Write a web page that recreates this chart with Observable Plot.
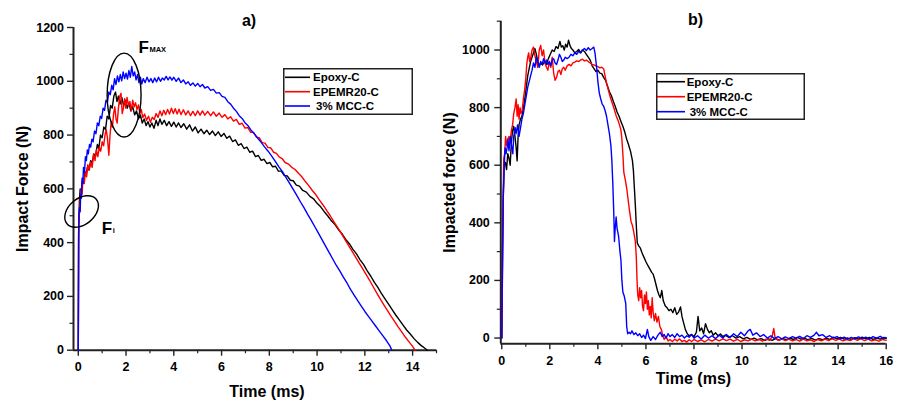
<!DOCTYPE html>
<html>
<head>
<meta charset="utf-8">
<script src="https://cdn.jsdelivr.net/npm/d3@7"></script>
<script src="https://cdn.jsdelivr.net/npm/@observablehq/plot@0.6"></script>
<style>
  body { margin: 0; background: #fff; }
  #wrap { position: relative; width: 904px; height: 400px; overflow: hidden; background: #fff; font-family: "Liberation Sans", Arial, sans-serif; }
  #wrap svg { position: absolute; top: 0; overflow: visible; }
</style>
</head>
<body>
<div id="wrap"></div>
<script>
// ---------- data ----------
const seriesNames = ["Epoxy-C", "EPEMR20-C", "3% MCC-C"];
const seriesColors = ["#000000", "#ff0000", "#0000ff"];

const aXTicks = [0, 2, 4, 6, 8, 10, 12, 14];
const aXMinor = [1, 3, 5, 7, 9, 11, 13, 15];
const aYTicks = [0, 200, 400, 600, 800, 1000, 1200];
const aYMinor = [100, 300, 500, 700, 900, 1100];
const bXTicks = [0, 2, 4, 6, 8, 10, 12, 14, 16];
const bXMinor = [1, 3, 5, 7, 9, 11, 13, 15];
const bYTicks = [0, 200, 400, 600, 800, 1000];
const bYMinor = [100, 300, 500, 700, 900, 1100];

// panel a) : [time ms, force N]
const aEpoxy = [[0,0],[0.02,470],[0.05,560],[0.08,600],[0.12,585],[0.17,630],[0.22,620],[0.28,660],[0.33,650],[0.38,680],[0.45,670],[0.52,705],[0.58,695],[0.65,730],[0.72,720],[0.8,765],[0.86,750],[0.93,800],[1.0,790],[1.07,830],[1.14,820],[1.21,870],[1.28,860],[1.35,910],[1.42,900],[1.49,945],[1.56,960],[1.62,925],[1.68,945],[1.75,915],[1.82,940],[1.9,910],[1.97,930],[2.05,900],[2.12,920],[2.2,890],[2.28,905],[2.36,875],[2.44,890],[2.52,860],[2.6,875],[2.68,845],[2.76,860],[2.84,835],[2.92,850],[3.0,830],[3.08,845],[3.17,825],[3.26,855],[3.34,835],[3.42,860],[3.5,840],[3.6,855],[3.7,835],[3.8,850],[3.9,832],[4.0,848],[4.1,830],[4.2,845],[4.3,828],[4.42,842],[4.54,822],[4.66,838],[4.78,815],[4.9,830],[5.02,808],[5.14,822],[5.26,805],[5.38,818],[5.5,802],[5.62,815],[5.74,798],[5.86,812],[5.98,795],[6.1,806],[6.22,788],[6.34,796],[6.46,776],[6.58,782],[6.7,762],[6.82,768],[6.94,750],[7.06,755],[7.18,736],[7.3,740],[7.42,720],[7.54,724],[7.66,706],[7.78,710],[7.9,694],[8.02,698],[8.14,682],[8.26,684],[8.38,666],[8.5,666],[8.62,650],[8.75,648],[8.88,632],[9.0,630],[9.13,614],[9.26,610],[9.4,594],[9.55,588],[9.7,572],[9.85,563],[10.0,546],[10.15,533],[10.3,515],[10.45,499],[10.6,481],[10.75,467],[10.9,448],[11.05,432],[11.2,412],[11.35,396],[11.5,375],[11.65,358],[11.8,336],[11.95,318],[12.1,295],[12.25,275],[12.4,252],[12.55,233],[12.7,210],[12.85,190],[13.0,170],[13.15,150],[13.3,130],[13.45,112],[13.6,93],[13.75,75],[13.9,60],[14.05,44],[14.2,30],[14.35,18],[14.5,8],[14.62,0]];

const aEpemr = [[0,0],[0.02,460],[0.04,500],[0.08,560],[0.12,600],[0.16,580],[0.2,640],[0.25,620],[0.3,665],[0.35,645],[0.4,690],[0.46,670],[0.52,700],[0.58,680],[0.64,730],[0.7,705],[0.76,745],[0.82,720],[0.88,755],[0.94,740],[1.0,775],[1.06,760],[1.12,800],[1.17,820],[1.22,790],[1.28,725],[1.33,800],[1.38,850],[1.43,830],[1.48,880],[1.53,905],[1.58,860],[1.63,845],[1.68,900],[1.74,945],[1.79,955],[1.84,880],[1.89,900],[1.94,935],[1.99,900],[2.04,940],[2.1,910],[2.16,925],[2.22,890],[2.28,930],[2.34,905],[2.4,920],[2.46,895],[2.52,912],[2.58,880],[2.64,895],[2.7,865],[2.78,878],[2.86,855],[2.94,870],[3.02,848],[3.1,866],[3.18,858],[3.26,880],[3.34,866],[3.42,890],[3.5,872],[3.58,892],[3.66,876],[3.74,895],[3.82,878],[3.9,900],[3.98,880],[4.06,898],[4.14,878],[4.22,896],[4.3,876],[4.4,894],[4.5,875],[4.6,890],[4.7,872],[4.8,888],[4.9,872],[5.0,890],[5.1,874],[5.2,890],[5.3,874],[5.42,888],[5.54,872],[5.66,886],[5.78,870],[5.9,882],[6.02,866],[6.14,876],[6.26,860],[6.38,868],[6.5,852],[6.62,858],[6.74,840],[6.86,844],[6.98,826],[7.1,828],[7.22,810],[7.34,810],[7.46,792],[7.58,790],[7.7,772],[7.82,770],[7.94,754],[8.06,752],[8.18,736],[8.3,732],[8.42,718],[8.54,712],[8.66,698],[8.8,692],[8.94,680],[9.08,672],[9.22,658],[9.36,645],[9.5,628],[9.65,612],[9.8,594],[9.95,578],[10.1,558],[10.25,540],[10.4,520],[10.55,500],[10.7,478],[10.85,458],[11.0,436],[11.15,414],[11.3,392],[11.45,370],[11.6,348],[11.75,326],[11.9,304],[12.05,282],[12.2,260],[12.35,236],[12.5,212],[12.65,190],[12.8,168],[12.95,147],[13.1,126],[13.25,106],[13.4,86],[13.55,67],[13.7,48],[13.85,31],[14.0,14],[14.1,0]];

const aMcc = [[0,0],[0.01,420],[0.03,500],[0.05,530],[0.08,515],[0.1,580],[0.13,565],[0.16,640],[0.19,620],[0.22,680],[0.26,660],[0.3,720],[0.34,705],[0.38,745],[0.42,730],[0.47,765],[0.52,755],[0.57,785],[0.62,775],[0.68,815],[0.74,805],[0.8,845],[0.86,835],[0.92,870],[0.98,862],[1.04,900],[1.1,892],[1.16,930],[1.22,922],[1.28,960],[1.34,950],[1.4,985],[1.46,968],[1.52,1010],[1.58,988],[1.64,1020],[1.7,998],[1.76,1025],[1.82,1002],[1.88,1035],[1.94,1010],[2.0,1030],[2.06,1008],[2.12,1040],[2.18,1015],[2.24,1055],[2.3,1020],[2.36,1035],[2.42,1005],[2.48,1025],[2.54,995],[2.6,1015],[2.66,990],[2.72,1010],[2.8,995],[2.88,1015],[2.96,998],[3.04,1010],[3.12,995],[3.2,1012],[3.28,998],[3.36,1015],[3.44,1000],[3.52,1012],[3.6,1005],[3.68,1018],[3.76,1005],[3.84,1016],[3.92,1004],[4.0,1015],[4.1,1000],[4.2,1012],[4.3,995],[4.4,1005],[4.5,990],[4.6,998],[4.7,985],[4.8,994],[4.9,982],[5.0,992],[5.1,980],[5.2,988],[5.3,975],[5.42,980],[5.54,966],[5.66,970],[5.78,956],[5.9,958],[6.02,944],[6.14,940],[6.26,924],[6.38,915],[6.5,900],[6.62,888],[6.74,872],[6.86,862],[6.98,846],[7.1,836],[7.22,820],[7.36,806],[7.5,790],[7.65,774],[7.8,756],[7.95,740],[8.1,722],[8.25,702],[8.4,682],[8.55,664],[8.7,642],[8.85,620],[9.0,598],[9.15,576],[9.3,552],[9.45,530],[9.6,506],[9.75,484],[9.9,460],[10.05,436],[10.2,412],[10.35,388],[10.5,364],[10.65,340],[10.8,316],[10.95,295],[11.1,272],[11.25,250],[11.4,226],[11.55,205],[11.7,184],[11.85,164],[12.0,144],[12.15,126],[12.3,108],[12.45,90],[12.6,72],[12.75,54],[12.9,36],[13.05,16],[13.13,0]];

// panel b) : [time ms, force N]
const bEpoxy = [[0,0],[0.03,300],[0.06,480],[0.1,600],[0.15,610],[0.2,585],[0.25,640],[0.3,625],[0.35,600],[0.4,680],[0.45,720],[0.5,735],[0.55,700],[0.6,660],[0.64,615],[0.68,700],[0.72,740],[0.78,760],[0.84,770],[0.9,800],[0.96,830],[1.02,870],[1.08,910],[1.14,935],[1.2,960],[1.26,975],[1.32,990],[1.38,1005],[1.44,985],[1.5,960],[1.56,945],[1.62,955],[1.7,948],[1.78,960],[1.86,950],[1.94,970],[2.02,985],[2.1,1000],[2.18,995],[2.26,1012],[2.34,1005],[2.42,1030],[2.48,1010],[2.54,1015],[2.6,1000],[2.66,1020],[2.72,1010],[2.78,1034],[2.84,1015],[2.9,1005],[2.96,1000],[3.04,990],[3.12,995],[3.2,1002],[3.28,990],[3.36,1000],[3.44,995],[3.52,985],[3.6,975],[3.68,965],[3.76,945],[3.84,935],[3.92,925],[4.0,930],[4.08,920],[4.16,918],[4.24,905],[4.32,895],[4.4,875],[4.48,855],[4.56,842],[4.64,822],[4.72,805],[4.8,785],[4.88,770],[4.96,752],[5.04,735],[5.12,715],[5.2,690],[5.28,670],[5.36,648],[5.44,615],[5.48,580],[5.52,520],[5.56,460],[5.6,390],[5.64,330],[5.7,320],[5.77,312],[5.84,295],[5.92,280],[6.0,265],[6.08,252],[6.16,240],[6.24,228],[6.3,222],[6.36,205],[6.42,185],[6.48,165],[6.54,150],[6.6,140],[6.66,165],[6.72,130],[6.8,112],[6.88,105],[6.96,95],[7.04,100],[7.12,88],[7.2,105],[7.28,82],[7.36,90],[7.44,108],[7.5,75],[7.56,55],[7.64,30],[7.72,15],[7.8,8],[7.9,12],[8.0,5],[8.1,20],[8.17,75],[8.24,25],[8.32,35],[8.4,15],[8.48,50],[8.56,30],[8.64,18],[8.72,25],[8.8,10],[8.9,18],[9.0,8],[9.1,14],[9.2,5],[9.3,10],[9.45,2],[9.6,8],[9.75,0],[9.9,5],[10.05,-3],[10.2,2],[10.35,-5],[10.5,0],[10.65,-6],[10.8,-2],[10.95,-8],[11.1,-3],[11.25,-8],[11.4,-2],[11.55,-7],[11.7,-2],[11.85,-6],[12.0,0],[12.15,-5],[12.3,2],[12.45,-4],[12.6,0],[12.75,-6],[12.9,-1],[13.05,-7],[13.2,-2],[13.35,-6],[13.5,0],[13.65,-5],[13.8,3],[13.95,-3],[14.1,2],[14.25,-4],[14.4,0],[14.55,-5],[14.7,1],[14.85,-4],[15.0,3],[15.15,-3],[15.3,2],[15.45,-5],[15.6,0],[15.75,-4],[15.9,2],[16.0,-2]];

const bEpemr = [[0,0],[0.02,140],[0.05,420],[0.08,620],[0.12,640],[0.16,700],[0.2,670],[0.25,690],[0.3,700],[0.35,680],[0.4,720],[0.45,740],[0.5,780],[0.55,800],[0.6,830],[0.64,770],[0.68,810],[0.72,760],[0.76,800],[0.8,780],[0.85,790],[0.9,830],[0.95,860],[1.0,900],[1.04,950],[1.08,975],[1.12,990],[1.16,960],[1.2,970],[1.26,1000],[1.32,1010],[1.38,980],[1.44,960],[1.5,940],[1.56,1000],[1.62,1016],[1.68,980],[1.74,1000],[1.8,955],[1.86,940],[1.92,930],[1.98,960],[2.04,940],[2.1,975],[2.16,920],[2.22,895],[2.28,905],[2.34,925],[2.4,930],[2.46,915],[2.52,935],[2.58,940],[2.64,930],[2.72,945],[2.8,950],[2.88,945],[2.96,955],[3.04,958],[3.12,962],[3.2,960],[3.28,965],[3.36,968],[3.44,962],[3.52,965],[3.6,960],[3.68,955],[3.76,950],[3.84,948],[3.92,945],[4.0,942],[4.08,938],[4.16,940],[4.24,935],[4.3,910],[4.36,885],[4.44,860],[4.52,835],[4.6,815],[4.68,795],[4.76,772],[4.84,755],[4.9,740],[4.96,722],[5.0,690],[5.04,640],[5.08,575],[5.14,550],[5.2,520],[5.26,480],[5.32,440],[5.38,405],[5.44,390],[5.5,365],[5.56,335],[5.6,280],[5.63,200],[5.66,150],[5.7,130],[5.74,175],[5.78,140],[5.82,165],[5.86,110],[5.9,95],[5.94,150],[5.98,120],[6.02,160],[6.06,100],[6.1,130],[6.14,80],[6.18,110],[6.22,70],[6.26,140],[6.3,90],[6.35,60],[6.4,85],[6.46,55],[6.52,75],[6.58,40],[6.64,30],[6.7,10],[6.76,-5],[6.84,5],[6.92,-10],[7.0,-5],[7.1,-12],[7.2,-4],[7.3,-10],[7.4,-3],[7.5,-12],[7.6,-8],[7.7,-14],[7.8,-6],[7.9,-12],[8.0,-5],[8.15,-12],[8.3,-6],[8.45,-13],[8.6,-5],[8.75,-11],[8.9,-4],[9.05,-10],[9.2,-3],[9.35,-9],[9.5,-4],[9.65,-11],[9.8,-5],[9.95,-12],[10.1,-6],[10.25,-10],[10.4,-4],[10.55,-10],[10.7,-5],[10.85,-11],[11.0,-4],[11.15,-8],[11.25,5],[11.32,33],[11.38,0],[11.5,-8],[11.65,-3],[11.8,-9],[11.95,-4],[12.1,-10],[12.25,-5],[12.4,-11],[12.55,-4],[12.7,-10],[12.85,-6],[13.0,-12],[13.15,-5],[13.3,-10],[13.45,-4],[13.6,-9],[13.75,-3],[13.9,-8],[14.05,-4],[14.2,-10],[14.35,-5],[14.5,-9],[14.65,-2],[14.8,-8],[14.95,-3],[15.1,-9],[15.25,-4],[15.4,-10],[15.55,-6],[15.7,-11],[15.85,-5],[16.0,-8]];

const bMcc = [[0,0],[0.03,250],[0.06,480],[0.1,600],[0.14,660],[0.18,640],[0.22,660],[0.26,690],[0.3,650],[0.36,700],[0.42,660],[0.46,640],[0.5,700],[0.56,730],[0.6,710],[0.66,740],[0.72,700],[0.78,730],[0.84,760],[0.9,780],[0.96,810],[1.02,840],[1.08,870],[1.14,890],[1.2,910],[1.26,930],[1.32,955],[1.38,940],[1.44,975],[1.5,960],[1.56,940],[1.62,960],[1.68,950],[1.74,970],[1.8,955],[1.86,965],[1.92,950],[1.98,960],[2.04,945],[2.1,965],[2.16,970],[2.22,955],[2.28,950],[2.34,965],[2.4,985],[2.46,975],[2.52,960],[2.58,965],[2.64,975],[2.72,970],[2.8,975],[2.88,985],[2.96,980],[3.04,990],[3.12,985],[3.2,995],[3.28,990],[3.36,1000],[3.44,1005],[3.52,998],[3.6,1008],[3.68,1000],[3.76,1005],[3.83,1010],[3.88,990],[3.92,960],[3.96,930],[4.0,890],[4.06,850],[4.12,830],[4.18,812],[4.24,805],[4.3,790],[4.36,770],[4.42,740],[4.48,710],[4.54,670],[4.58,620],[4.62,540],[4.66,440],[4.69,335],[4.72,380],[4.76,420],[4.8,380],[4.86,355],[4.92,300],[4.96,270],[5.0,200],[5.04,160],[5.1,145],[5.16,120],[5.2,40],[5.24,15],[5.3,20],[5.36,15],[5.42,25],[5.5,12],[5.58,18],[5.66,8],[5.74,15],[5.82,2],[5.9,10],[5.98,-2],[6.06,30],[6.12,5],[6.2,-8],[6.3,5],[6.4,-5],[6.5,10],[6.6,20],[6.68,5],[6.76,12],[6.84,0],[6.92,15],[7.0,5],[7.1,12],[7.2,2],[7.3,15],[7.4,5],[7.5,10],[7.6,0],[7.7,8],[7.8,3],[7.9,12],[8.0,0],[8.15,8],[8.3,-3],[8.45,10],[8.6,0],[8.75,8],[8.9,-2],[9.05,10],[9.2,0],[9.35,12],[9.5,2],[9.65,15],[9.8,5],[9.95,20],[10.1,8],[10.25,25],[10.34,30],[10.45,10],[10.6,18],[10.75,5],[10.9,12],[11.05,0],[11.2,8],[11.35,-2],[11.5,5],[11.65,-3],[11.8,4],[11.95,-2],[12.1,5],[12.25,0],[12.4,6],[12.55,-2],[12.7,8],[12.85,2],[13.0,10],[13.1,20],[13.2,8],[13.35,12],[13.5,2],[13.65,8],[13.8,0],[13.95,5],[14.1,-3],[14.25,3],[14.4,-4],[14.55,2],[14.7,-3],[14.85,4],[15.0,-2],[15.15,3],[15.3,-4],[15.45,5],[15.6,0],[15.75,6],[15.9,-2],[16.0,2]];

// annotations in panel a) (data coordinates)
const aNotes = [{t: 2.52, f: 1126, main: "F", sub: "MAX"}, {t: 0.98, f: 452, main: "F", sub: "i"}];
const aRings = [{t: 1.94, f: 947, rt: 0.71, rf: 156, angle: 0}, {t: 0.16, f: 514, rt: 0.8, rf: 48, angle: -40}];

// ---------- drawing ----------
const FONT = "'Liberation Sans', Arial, sans-serif";
const wrap = document.getElementById("wrap");

function rowsOf(list) {
  return list.flatMap((pts, i) => pts.map(([t, f]) => ({t, f, s: seriesNames[i]})));
}

function panel(cfg) {
  const marks = [
    Plot.axisX({ticks: cfg.xTicks, tickSize: 6, tickPadding: 6, tickFormat: d => String(d), label: null, fontSize: 12.5, fontWeight: "bold", stroke: "#222", strokeWidth: 1.4}),
    Plot.axisX({ticks: cfg.xMinor, tickSize: 3.5, tickFormat: () => "", label: null, stroke: "#222", strokeWidth: 1.2}),
    Plot.axisY({ticks: cfg.yTicks, tickSize: 6, tickPadding: cfg.yPad, tickFormat: d => String(d), label: null, fontSize: 12.5, fontWeight: "bold", stroke: "#222", strokeWidth: 1.4}),
    Plot.axisY({ticks: cfg.yMinor, tickSize: 3.5, tickFormat: () => "", label: null, stroke: "#222", strokeWidth: 1.2}),
    Plot.ruleX([cfg.xDomain[0]], {stroke: "#222", strokeWidth: 2}),
    Plot.ruleY([cfg.yDomain[0]], {stroke: "#222", strokeWidth: 2}),
    Plot.line(rowsOf(cfg.series), {x: "t", y: "f", z: "s", stroke: "s", strokeWidth: 1.4}),
    Plot.text([cfg.xLabel], {frameAnchor: "bottom", lineAnchor: "middle", textAnchor: "middle", dx: cfg.xLabelDx, dy: cfg.xLabelDy, fontSize: 16, fontWeight: "bold", fill: "#000"}),
    Plot.text([cfg.yLabel], {frameAnchor: "left", lineAnchor: "middle", textAnchor: "middle", dx: cfg.yLabelDx, rotate: -90, fontSize: 16, fontWeight: "bold", fill: "#000"}),
    Plot.text([cfg.title], {frameAnchor: "top", lineAnchor: "middle", textAnchor: "middle", dx: cfg.titleDx, dy: cfg.titleDy, fontSize: 16, fontWeight: "bold", fill: "#000"}),
    ...(cfg.extra || [])
  ];
  return Plot.plot({
    width: cfg.width, height: 400,
    marginLeft: cfg.ml, marginRight: cfg.mr, marginTop: cfg.mt, marginBottom: cfg.mb,
    style: {background: "transparent", fontFamily: FONT, fontWeight: "bold", color: "#000", overflow: "visible"},
    x: {domain: cfg.xDomain},
    y: {domain: cfg.yDomain},
    color: {domain: seriesNames, range: seriesColors},
    marks
  });
}

const chartA = panel({
  width: 450, ml: 73, mr: 14, mt: 27, mb: 50.3,
  xDomain: [-0.2, 15], yDomain: [0, 1200],
  xTicks: aXTicks, xMinor: aXMinor, yTicks: aYTicks, yMinor: aYMinor, yPad: 3.5,
  series: [aEpoxy, aEpemr, aMcc],
  xLabel: "Time (ms)", xLabelDx: 12, xLabelDy: 42, yLabel: "Impact Force (N)", yLabelDx: -51,
  title: "a)", titleDx: -6, titleDy: -7,
  extra: [
    Plot.text(aNotes, {x: "t", y: "f", text: "main", textAnchor: "start", fontSize: 17, fontWeight: "bold", fill: "#000"}),
    Plot.text(aNotes, {x: "t", y: "f", text: "sub", textAnchor: "start", fontSize: 7.5, fontWeight: "bold", fill: "#000", dx: 11, dy: 2})
  ]
});
chartA.style.left = "0px";
wrap.appendChild(chartA);

const chartB = panel({
  width: 474, ml: 70.3, mr: 18.3, mt: 20.7, mb: 56.7,
  xDomain: [-0.04, 16], yDomain: [-20, 1100],
  xTicks: bXTicks, xMinor: bXMinor, yTicks: bYTicks, yMinor: bYMinor, yPad: 5,
  series: [bEpoxy, bEpemr, bMcc],
  xLabel: "Time (ms)", xLabelDx: 0, xLabelDy: 35, yLabel: "Impacted force (N)", yLabelDx: -51,
  title: "b)", titleDx: 2, titleDy: -1.7
});
chartB.style.left = "430px";
wrap.appendChild(chartB);

// ellipses around F_MAX and F_i, placed through panel a)'s scales
{
  const sx = chartA.scale("x"), sy = chartA.scale("y");
  const g = d3.select(chartA).append("g");
  for (const e of aRings) {
    const cx = sx.apply(e.t), cy = sy.apply(e.f);
    const rx = Math.abs(sx.apply(e.t + e.rt) - cx), ry = Math.abs(sy.apply(e.f + e.rf) - cy);
    g.append("ellipse")
      .attr("cx", cx).attr("cy", cy).attr("rx", rx).attr("ry", ry)
      .attr("transform", `rotate(${e.angle} ${cx} ${cy})`)
      .attr("fill", "none").attr("stroke", "#000").attr("stroke-width", 1.4);
  }
}

// legends (line swatches in a bordered box)
function legend(left, top, w, h, rowY, lineX0, lineX1, textX) {
  const svg = d3.select(wrap).append("svg")
    .attr("width", w).attr("height", h)
    .style("left", left + "px").style("top", top + "px");
  svg.append("rect").attr("x", 0.75).attr("y", 0.75).attr("width", w - 1.5).attr("height", h - 1.5)
    .attr("fill", "#fff").attr("stroke", "#222").attr("stroke-width", 1.5);
  seriesNames.forEach((name, i) => {
    svg.append("line").attr("x1", lineX0).attr("x2", lineX1).attr("y1", rowY[i]).attr("y2", rowY[i])
      .attr("stroke", seriesColors[i]).attr("stroke-width", 1.6);
    svg.append("text").attr("x", textX + (i === 2 ? 3 : 0)).attr("y", rowY[i]).attr("dy", "0.35em")
      .attr("font-family", FONT).attr("font-weight", "bold").attr("font-size", 11.5)
      .attr("fill", "#000").text(name);
  });
}
legend(283, 68, 130, 47, [9.3, 23.7, 38], 2, 27, 30);
legend(656, 73, 149, 47, [8.7, 23.7, 38.7], 1, 29, 30.7);
</script>
</body>
</html>
